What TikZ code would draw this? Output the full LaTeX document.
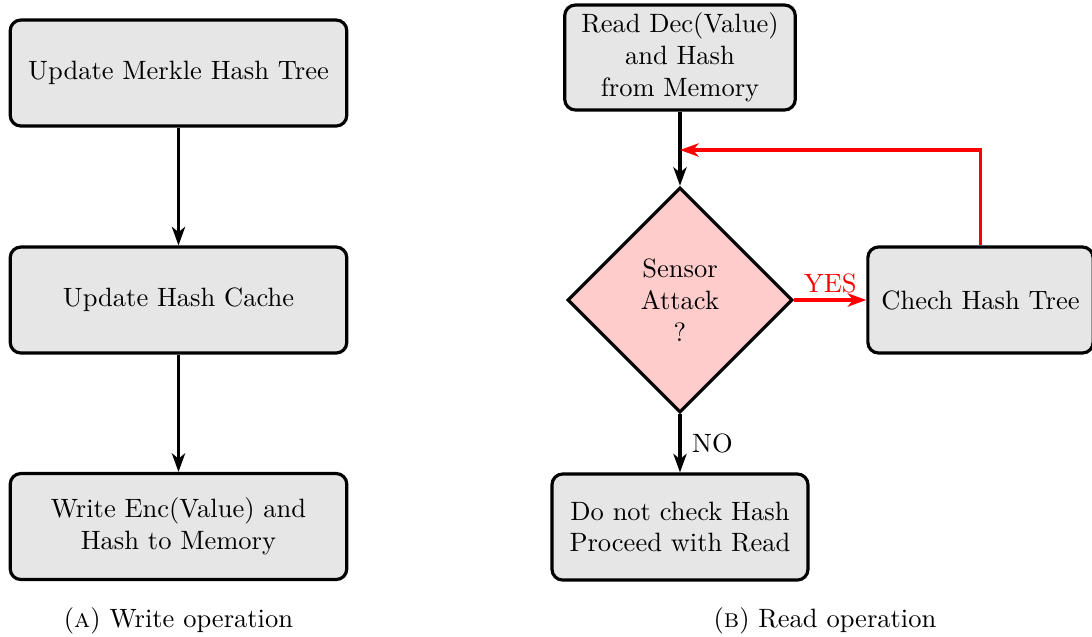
\documentclass[tikz,border=0pt]{standalone}
\usetikzlibrary{arrows.meta,shapes.geometric}
\definecolor{boxgray}{HTML}{E6E6E6}
\definecolor{diapink}{HTML}{FFCCCC}
\begin{document}
\begin{tikzpicture}[x=0.3774pt,y=-0.3774pt,
  procbox/.style={draw,very thick,rounded corners=4pt,fill=boxgray,align=center,minimum height=40pt,inner sep=4pt},
  decision/.style={draw,very thick,diamond,fill=diapink,align=center,minimum width=85pt,minimum height=85pt,inner sep=0pt},
  flow/.style={very thick,-{Stealth[length=7pt,width=5pt,inset=2pt]}},
  backflow/.style={flow,red}]
\useasboundingbox (0,0) rectangle (1092,636);

% Write operation
\node[procbox,minimum width=127pt] (m1) at (178.5,73) {Update Merkle Hash Tree};
\node[procbox,minimum width=127pt] (m2) at (178.5,300) {Update Hash Cache};
\node[procbox,minimum width=127pt] (m3) at (178.5,526.5) {Write Enc(Value) and\\Hash to Memory};
\draw[flow] (m1.south) -- (m2.north);
\draw[flow] (m2.south) -- (m3.north);
\node (capa) at (178.5,621) {(\textsc{a}) Write operation};

% Read operation
\node[procbox,minimum width=87pt,minimum height=39.6pt,inner sep=2pt] (r1) at (680,57.5) {Read Dec(Value)\\and Hash\\from Memory};
\node[decision] (d) at (680,300) {Sensor\\Attack\\?};
\node[procbox,minimum width=85pt] (c) at (980.5,300) {Chech Hash Tree};
\node[procbox,minimum width=96.6pt] (b) at (680,527) {Do not check Hash\\Proceed with Read};
\coordinate (j) at (680,150);
\draw[flow] (r1.south) -- (d.north);
\draw[flow,red] (d.east) -- node[above,text=red,inner sep=2pt] {YES} (c.west);
\draw[backflow] (c.north) |- (j);
\draw[flow] (d.south) -- node[right,inner sep=4pt] {NO} (b.north);
\node (capb) at (825,621) {(\textsc{b}) Read operation};
\end{tikzpicture}
\end{document}
